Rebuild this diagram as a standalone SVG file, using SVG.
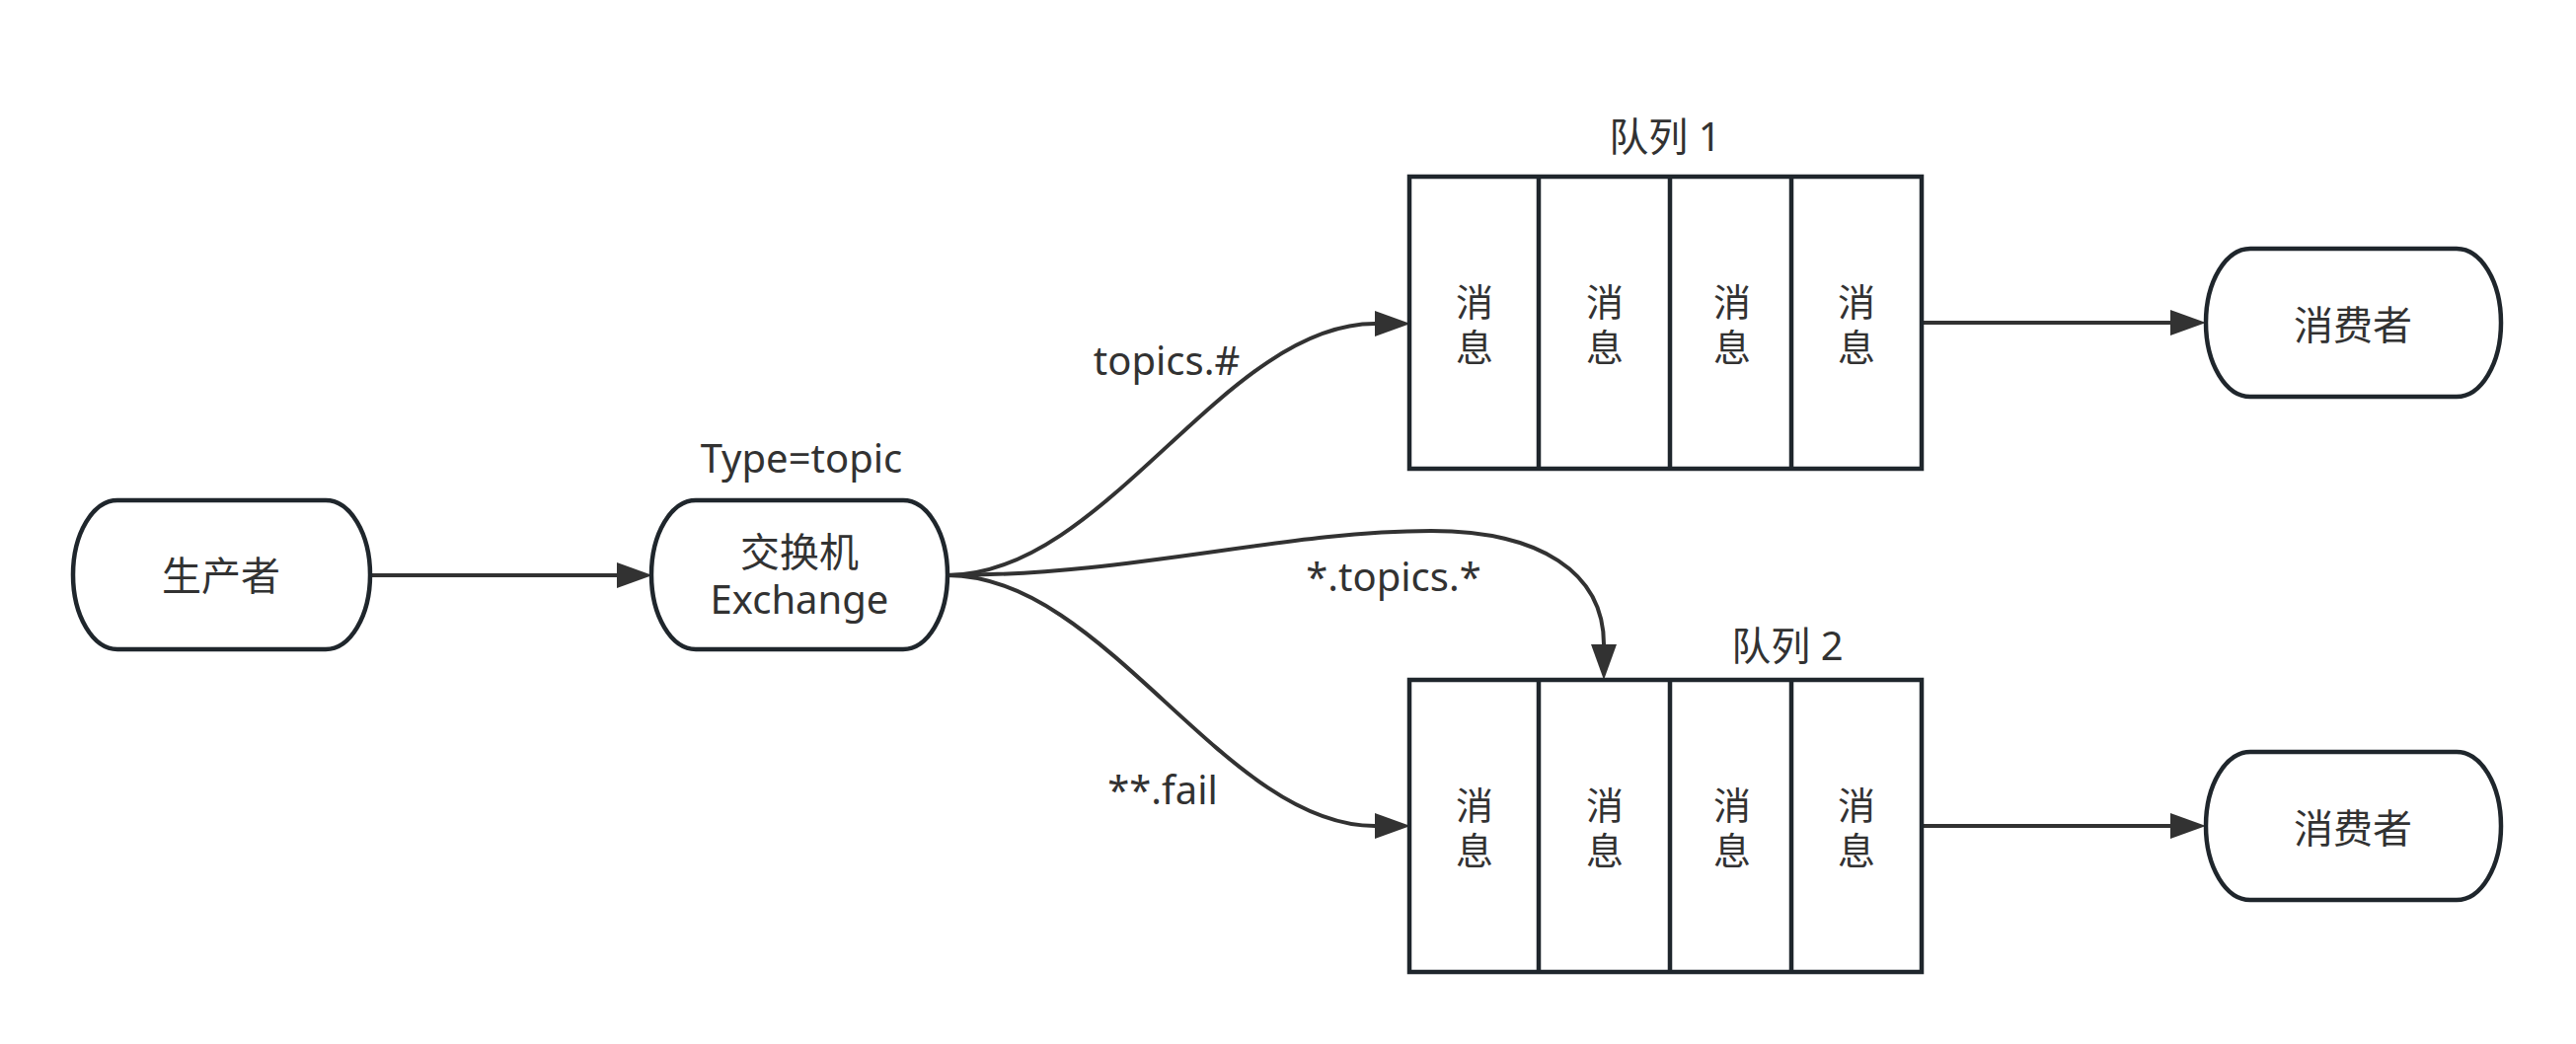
<svg xmlns="http://www.w3.org/2000/svg" width="2610" height="1058" viewBox="0 0 2610 1058">
<style>
  .node { fill: #ffffff; stroke: #1f262c; stroke-width: 4.5; }
  .cell { fill: none; stroke: #1f262c; stroke-width: 4.5; }
  .edge { fill: none; stroke: #323232; stroke-width: 4; }
  text { font-family: "Noto Sans", "Noto Sans CJK SC", sans-serif; font-size: 40px; fill: #323232; text-anchor: middle; }
  .msg { font-size: 38px; }
</style>
<defs>
  <marker id="arrow" markerUnits="userSpaceOnUse" markerWidth="36" markerHeight="26" refX="0" refY="13" orient="auto" viewBox="0 0 36 26">
    <path d="M0,0 L36,13 L0,26 z" fill="#323232"/>
  </marker>
</defs>
<rect width="2610" height="1058" fill="#ffffff"/>

<g id="connectors">
  <line class="edge" x1="375" y1="583" x2="625" y2="583" marker-end="url(#arrow)"/>
  <path class="edge" d="M960,583 C1120,583 1240,328 1393,328" marker-end="url(#arrow)"/>
  <path class="edge" d="M960,583 C1120,583 1240,837 1393,837" marker-end="url(#arrow)"/>
  <path class="edge" d="M960,583 C1150,583 1300,538 1450,538 C1560,538 1625,580 1625,653" marker-end="url(#arrow)"/>
  <line class="edge" x1="1947" y1="327" x2="2199" y2="327" marker-end="url(#arrow)"/>
  <line class="edge" x1="1947" y1="837" x2="2199" y2="837" marker-end="url(#arrow)"/>
  <text x="1182" y="380">topics.#</text>
  <text x="1412" y="599">*.topics.*</text>
  <text x="1178" y="815">**.fail</text>
</g>

<g id="producer">
  <rect class="node" x="74" y="507" width="301" height="151" rx="45" ry="75.5"/>
  <text x="224" y="598">生产者</text>
</g>

<g id="exchange">
  <rect class="node" x="660" y="507" width="300" height="151" rx="45" ry="75.5"/>
  <text x="812" y="479">Type=topic</text>
  <text x="810" y="574">交换机</text>
  <text x="810" y="622">Exchange</text>
</g>

<g id="queue1">
  <text x="1687" y="153">队列 1</text>
  <rect class="cell" x="1428" y="179" width="519" height="296"/>
  <line class="cell" x1="1559" y1="179" x2="1559" y2="475"/>
  <line class="cell" x1="1692" y1="179" x2="1692" y2="475"/>
  <line class="cell" x1="1815" y1="179" x2="1815" y2="475"/>
  <text class="msg" x="1494" y="320">消</text><text class="msg" x="1494" y="366">息</text>
  <text class="msg" x="1626" y="320">消</text><text class="msg" x="1626" y="366">息</text>
  <text class="msg" x="1755" y="320">消</text><text class="msg" x="1755" y="366">息</text>
  <text class="msg" x="1881" y="320">消</text><text class="msg" x="1881" y="366">息</text>
</g>

<g id="queue2">
  <text x="1811" y="669">队列 2</text>
  <rect class="cell" x="1428" y="689" width="519" height="296"/>
  <line class="cell" x1="1559" y1="689" x2="1559" y2="985"/>
  <line class="cell" x1="1692" y1="689" x2="1692" y2="985"/>
  <line class="cell" x1="1815" y1="689" x2="1815" y2="985"/>
  <text class="msg" x="1494" y="830">消</text><text class="msg" x="1494" y="876">息</text>
  <text class="msg" x="1626" y="830">消</text><text class="msg" x="1626" y="876">息</text>
  <text class="msg" x="1755" y="830">消</text><text class="msg" x="1755" y="876">息</text>
  <text class="msg" x="1881" y="830">消</text><text class="msg" x="1881" y="876">息</text>
</g>

<g id="consumer1">
  <rect class="node" x="2235" y="252" width="299" height="150" rx="45" ry="75"/>
  <text x="2384" y="344">消费者</text>
</g>

<g id="consumer2">
  <rect class="node" x="2235" y="762" width="299" height="150" rx="45" ry="75"/>
  <text x="2384" y="854">消费者</text>
</g>
</svg>
